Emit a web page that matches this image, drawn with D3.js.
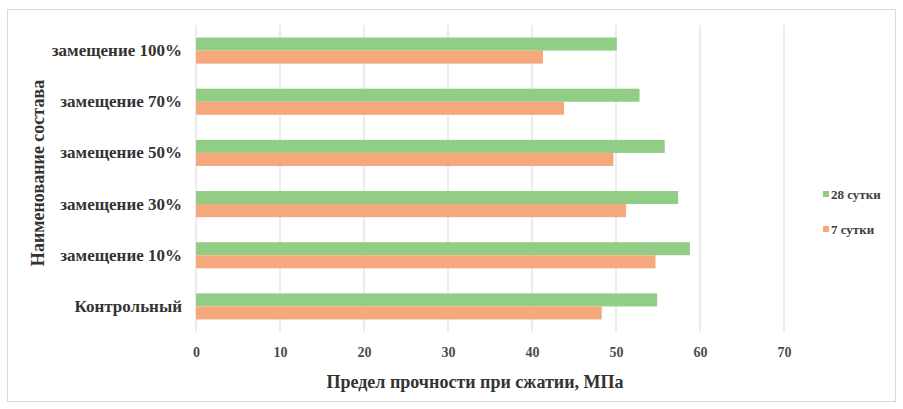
<!DOCTYPE html>
<html>
<head>
<meta charset="utf-8">
<script src="https://cdn.jsdelivr.net/npm/d3@7"></script>
<style>
  body { margin: 0; background: #fff; }
  text { font-family: "Liberation Serif", "Times New Roman", serif; }
</style>
</head>
<body>
<script>
// data
const categories = ["замещение 100%", "замещение 70%", "замещение 50%", "замещение 30%", "замещение 10%", "Контрольный"]
const days28 = [50.1, 52.8, 55.8, 57.4, 58.8, 54.9]
const days7 = [41.3, 43.8, 49.7, 51.2, 54.7, 48.3]
const seriesNames = ["28 сутки", "7 сутки"]
const xTicks = [0, 10, 20, 30, 40, 50, 60, 70]

const W = 903, H = 409
const colors = ["#92cd85", "#f4a87c"]

const svg = d3.select("body").append("svg")
  .attr("width", W)
  .attr("height", H)

// frame
svg.append("rect")
  .attr("x", 7.5).attr("y", 9.5)
  .attr("width", 888).attr("height", 392)
  .attr("fill", "#fff")
  .attr("stroke", "#d9d9d9")

const pLeft = 196, pRight = 784, pTop = 25, pBottom = 332

const x = d3.scaleLinear().domain([0, 70]).range([pLeft, pRight])
const y = d3.scaleBand().domain(categories).range([pTop, pBottom])
  .paddingInner(0.49).paddingOuter(0.245)
const sub = d3.scaleBand().domain(seriesNames).range([0, y.bandwidth()])

// grid
svg.append("g")
  .selectAll("line")
  .data(xTicks)
  .enter()
  .append("line")
  .attr("x1", d => x(d)).attr("x2", d => x(d))
  .attr("y1", pTop).attr("y2", pBottom)
  .attr("stroke", "#d9d9d9")

const rows = categories.map((c, i) => ({ cat: c, vals: [days28[i], days7[i]] }))

const g = svg.append("g")
  .selectAll("g")
  .data(rows)
  .enter()
  .append("g")
  .attr("transform", d => "translate(0," + y(d.cat) + ")")

g.selectAll("rect")
  .data(d => d.vals.map((v, k) => ({ v: v, s: seriesNames[k], k: k })))
  .enter()
  .append("rect")
  .attr("x", x(0))
  .attr("y", d => sub(d.s))
  .attr("width", d => x(d.v) - x(0))
  .attr("height", sub.bandwidth())
  .attr("fill", d => colors[d.k])

// x axis
const xAxis = d3.axisBottom(x).tickValues(xTicks).tickSize(0).tickPadding(15)
svg.append("g")
  .attr("transform", "translate(0," + pBottom + ")")
  .call(xAxis)
  .call(a => a.select(".domain").remove())
  .selectAll("text")
  .attr("font-size", 14)
  .attr("font-weight", "bold")
  .attr("fill", "#4a4a4a")
  .style("font-family", "Liberation Serif")

// y axis
const yAxis = d3.axisLeft(y).tickSize(0).tickPadding(14)
svg.append("g")
  .attr("transform", "translate(" + pLeft + ",0)")
  .call(yAxis)
  .call(a => a.select(".domain").remove())
  .selectAll("text")
  .attr("font-size", 17)
  .attr("font-weight", "bold")
  .attr("fill", "#333")
  .style("font-family", "Liberation Serif")

// titles
svg.append("text")
  .attr("x", 475).attr("y", 388)
  .attr("text-anchor", "middle")
  .attr("font-size", 18)
  .attr("font-weight", "bold")
  .attr("fill", "#333")
  .text("Предел прочности при сжатии, МПа")

svg.append("text")
  .attr("transform", "translate(44,173) rotate(-90)")
  .attr("text-anchor", "middle")
  .attr("font-size", 18)
  .attr("font-weight", "bold")
  .attr("fill", "#333")
  .text("Наименование состава")

// legend
const leg = svg.append("g")
  .selectAll("g")
  .data(seriesNames)
  .enter()
  .append("g")
  .attr("transform", (d, i) => "translate(823," + (194 + i * 35) + ")")

leg.append("rect")
  .attr("x", 0).attr("y", -3)
  .attr("width", 6).attr("height", 6)
  .attr("fill", (d, i) => colors[i])

leg.append("text")
  .attr("x", 8).attr("y", 5)
  .attr("font-size", 13)
  .attr("font-weight", "bold")
  .attr("fill", "#404040")
  .text(d => d)
</script>
</body>
</html>
